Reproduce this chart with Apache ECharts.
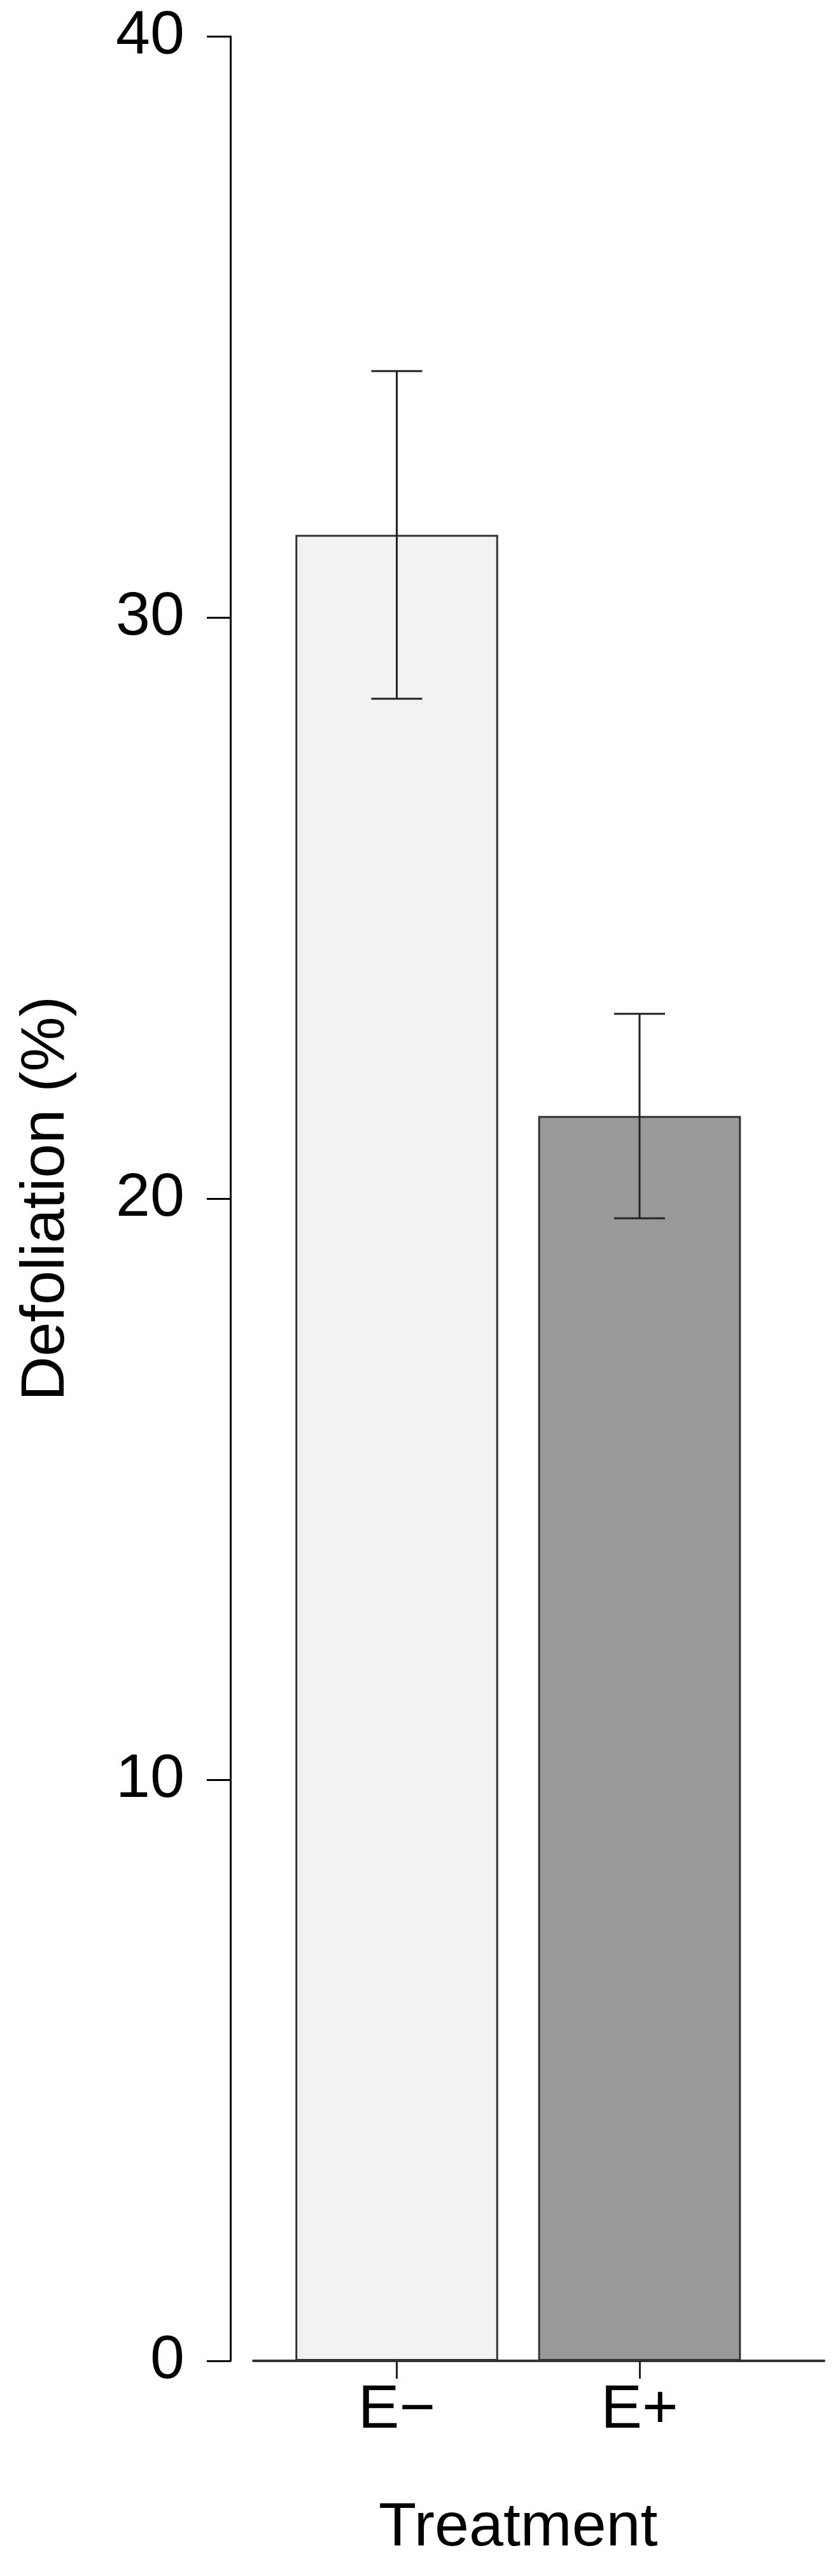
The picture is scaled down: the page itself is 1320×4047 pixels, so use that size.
<!DOCTYPE html>
<html><head><meta charset="utf-8">
<script src="https://cdn.jsdelivr.net/npm/echarts@6/dist/echarts.min.js"></script>
<style>html,body{margin:0;padding:0;background:#fff}#c{width:1320px;height:4047px}</style>
</head><body><div id="c"></div>
<script>
const categories = ['E\u2212', 'E+'];
const means = [31.42, 21.42];
const errors = [2.82, 1.76];
const yTicks = [0, 10, 20, 30, 40];
const barColors = ['#f2f2f2', '#999999'];
const yAxisTitle = 'Defoliation (%)';
const xAxisTitle = 'Treatment';

const FONT = "'Liberation Sans', Arial, Helvetica, sans-serif";
const chart = echarts.init(document.getElementById('c'), null, {renderer: 'canvas'});
const txt = {fontFamily: FONT, fontSize: 97, color: '#000'};
const option = {
  animation: false,
  backgroundColor: '#fff',
  grid: [
    {left: 432.75, right: 124.25, top: 57, bottom: 338},
    {left: 398, right: 25, top: 57, bottom: 338}
  ],
  xAxis: [
    {type: 'category', gridIndex: 0, data: categories, offset: 8,
     axisLine: {show: false},
     axisTick: {show: true, alignWithLabel: true, length: 28, lineStyle: {color: '#222', width: 3}},
     axisLabel: Object.assign({margin: 22}, txt),
     name: xAxisTitle, nameLocation: 'middle', nameGap: 207, nameTextStyle: txt},
    {type: 'value', gridIndex: 1, min: 0, max: 1, offset: 8,
     axisLine: {show: true, lineStyle: {color: '#333', width: 4}},
     axisTick: {show: false}, axisLabel: {show: false}, splitLine: {show: false}}
  ],
  yAxis: [
    {type: 'value', gridIndex: 0, min: yTicks[0], max: yTicks[yTicks.length - 1],
     interval: yTicks[1] - yTicks[0], offset: 70.75,
     axisLine: {show: true, lineStyle: {color: '#000', width: 3}},
     axisTick: {show: true, length: 37, lineStyle: {color: '#000', width: 3}},
     axisLabel: Object.assign({margin: 72}, txt),
     splitLine: {show: false},
     name: yAxisTitle, nameLocation: 'middle', nameRotate: 90, nameGap: 240, nameTextStyle: txt},
    {type: 'value', gridIndex: 1, show: false, min: 0, max: 40}
  ],
  series: [
    {type: 'bar', xAxisIndex: 0, yAxisIndex: 0, barCategoryGap: '16.5%',
     data: means.map((v, i) => ({value: v, itemStyle: {color: barColors[i]}})),
     itemStyle: {borderColor: '#333', borderWidth: 3}},
    {type: 'custom', xAxisIndex: 0, yAxisIndex: 0, z: 5,
     data: means.map((m, i) => [i, m, errors[i]]),
     encode: {x: 0, y: 1},
     renderItem: function (params, api) {
       const i = api.value(0), m = api.value(1), e = api.value(2);
       const t = api.coord([i, m + e]);
       const b = api.coord([i, m - e]);
       const hw = 40;
       const st = {stroke: '#222', lineWidth: 3};
       return {type: 'group', children: [
         {type: 'line', shape: {x1: t[0], y1: t[1], x2: b[0], y2: b[1]}, style: st},
         {type: 'line', shape: {x1: t[0] - hw, y1: t[1], x2: t[0] + hw, y2: t[1]}, style: st},
         {type: 'line', shape: {x1: b[0] - hw, y1: b[1], x2: b[0] + hw, y2: b[1]}, style: st}
       ]};
     }}
  ]
};
chart.setOption(option);
</script>
</body></html>
